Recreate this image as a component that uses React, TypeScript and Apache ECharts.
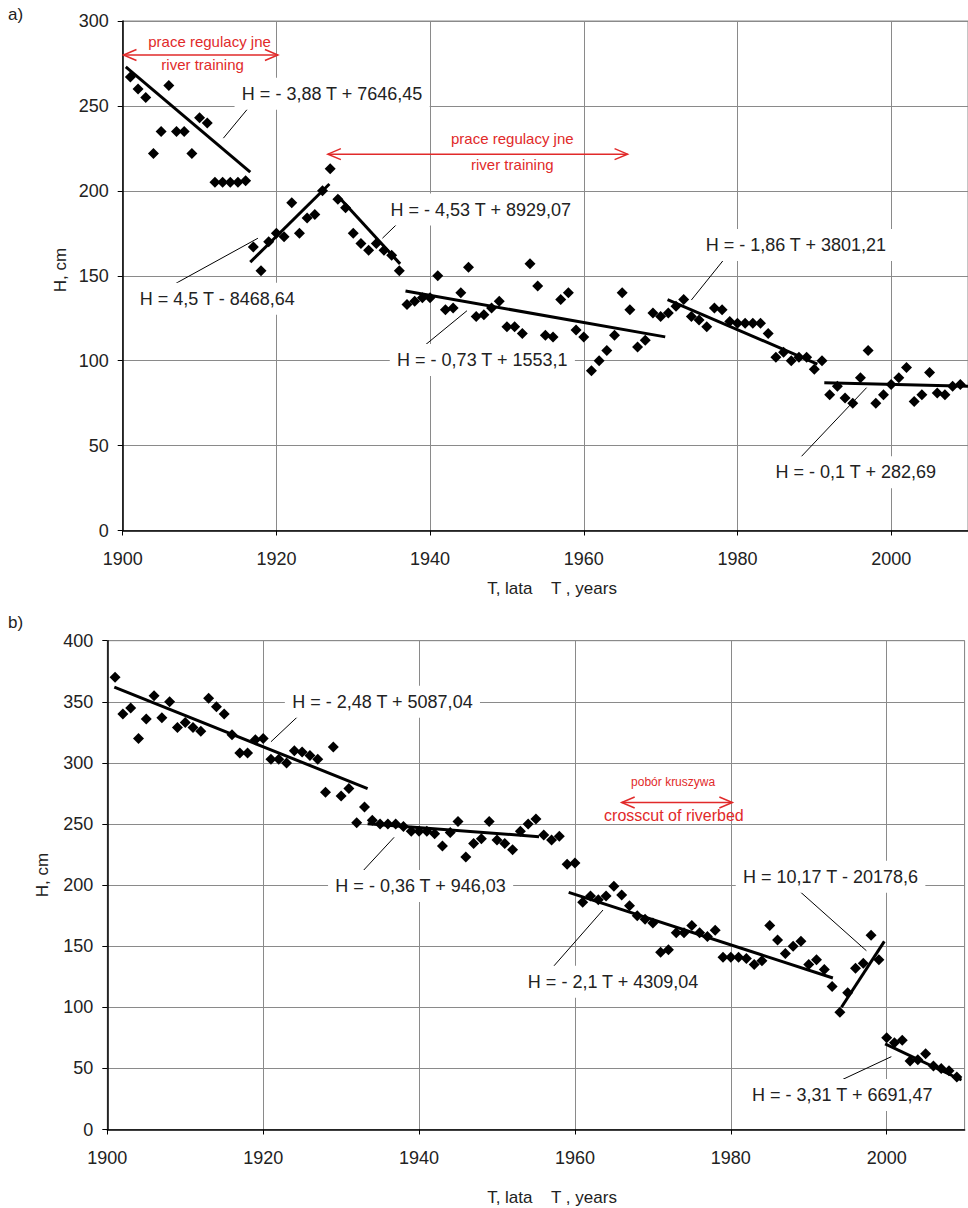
import React, { useEffect, useRef } from "react";
import * as echarts from "echarts";

// ---------- data: chart a ----------
const yearsA = [
  1901, 1902, 1903, 1904, 1905, 1906, 1907, 1908, 1909, 1910,
  1911, 1912, 1913, 1914, 1915, 1916, 1917, 1918, 1919, 1920,
  1921, 1922, 1923, 1924, 1925, 1926, 1927, 1928, 1929, 1930,
  1931, 1932, 1933, 1934, 1935, 1936, 1937, 1938, 1939, 1940,
  1941, 1942, 1943, 1944, 1945, 1946, 1947, 1948, 1949, 1950,
  1951, 1952, 1953, 1954, 1955, 1956, 1957, 1958, 1959, 1960,
  1961, 1962, 1963, 1964, 1965, 1966, 1967, 1968, 1969, 1970,
  1971, 1972, 1973, 1974, 1975, 1976, 1977, 1978, 1979, 1980,
  1981, 1982, 1983, 1984, 1985, 1986, 1987, 1988, 1989, 1990,
  1991, 1992, 1993, 1994, 1995, 1996, 1997, 1998, 1999, 2000,
  2001, 2002, 2003, 2004, 2005, 2006, 2007, 2008, 2009,
];
const levelsA = [
  267, 260, 255, 222, 235, 262, 235, 235, 222, 243,
  240, 205, 205, 205, 205, 206, 167, 153, 170, 175,
  173, 193, 175, 184, 186, 200, 213, 195, 190, 175,
  169, 165, 169, 165, 162, 153, 133, 135, 137, 137,
  150, 130, 131, 140, 155, 126, 127, 131, 135, 120,
  120, 116, 157, 144, 115, 114, 136, 140, 118, 114,
  94, 100, 106, 115, 140, 130, 108, 112, 128, 126,
  128, 132, 136, 126, 124, 120, 131, 130, 123, 122,
  122, 122, 122, 116, 102, 105, 100, 102, 102, 95,
  100, 80, 85, 78, 75, 90, 106, 75, 80, 86,
  90, 96, 76, 80, 93, 81, 80, 85, 86,
];
// trend segments [T1, H1, T2, H2]
const trendA = [
  [1900.4, 273, 1916.6, 211],
  [1916.6, 158, 1926.9, 204],
  [1928.0, 197, 1936.1, 157],
  [1936.8, 141, 1970.6, 114],
  [1970.9, 136, 1990.4, 98],
  [1991.3, 87, 2010.0, 85],
];
const eqTextsA = [
  "H = - 3,88 T + 7646,45",
  "H = - 4,53 T + 8929,07",
  "H = 4,5 T - 8468,64",
  "H = - 0,73 T + 1553,1",
  "H = - 1,86 T + 3801,21",
  "H = - 0,1 T + 282,69",
];
const eqAnchorsA = [
  [1927.25, 257.1],
  [1946.6, 189.0],
  [1912.3, 136.5],
  [1946.8, 100.4],
  [1987.6, 168.1],
  [1995.4, 34.3],
];
const leadersA = [
  [1916.5, 249.6, 1913.1, 231.0],
  [1936.7, 184.8, 1933.8, 172.1],
  [1917.6, 172.1, 1905.1, 141.0],
  [1944.8, 129.4, 1938.9, 107.5],
  [1978.3, 159.9, 1974.0, 135.7],
  [1987.8, 41.1, 1996.8, 84.1],
];
const redTextsA = ["prace regulacy jne", "river training", "prace regulacy jne", "river training"];
const redAnchorsA = [
  [1911.3, 287.9],
  [1910.4, 274.1],
  [1950.7, 230.6],
  [1950.7, 215.7],
];
const arrowsA = [
  [1900.1, 280.0, 1920.2, 280.0],
  [1926.7, 221.6, 1965.7, 221.6],
];

// ---------- data: chart b ----------
const yearsB = yearsA.slice();
const levelsB = [
  370, 340, 345, 320, 336, 355, 337, 350, 329, 333,
  329, 326, 353, 346, 340, 323, 308, 308, 319, 320,
  303, 303, 300, 310, 309, 306, 303, 276, 313, 273,
  279, 251, 264, 253, 250, 250, 250, 248, 244, 244,
  244, 242, 232, 243, 252, 223, 234, 238, 252, 237,
  234, 229, 244, 250, 254, 241, 237, 240, 217, 218,
  186, 191, 188, 191, 199, 192, 183, 175, 172, 169,
  145, 147, 161, 161, 167, 161, 158, 163, 141, 141,
  141, 140, 135, 138, 167, 155, 144, 150, 154, 135,
  139, 131, 117, 96, 112, 132, 136, 159, 139, 75,
  71, 73, 56, 57, 62, 52, 50, 48, 43,
];
const trendB = [
  [1900.9, 362, 1933.4, 279],
  [1933.4, 250.3, 1955.4, 239.6],
  [1959.2, 194, 1993.1, 124],
  [1994.2, 100, 1999.7, 154],
  [1999.8, 70, 2009.6, 40.5],
];
const eqTextsB = [
  "H = - 2,48 T + 5087,04",
  "H = - 0,36 T + 946,03",
  "H = - 2,1 T + 4309,04",
  "H = 10,17 T - 20178,6",
  "H = - 3,31 T + 6691,47",
];
const eqAnchorsB = [
  [1935.3, 350.1],
  [1940.2, 199.3],
  [1964.9, 121.0],
  [1992.8, 206.9],
  [1994.3, 28.2],
];
const leadersB = [
  [1925.2, 342.5, 1921.0, 317.3],
  [1936.8, 239.1, 1931.8, 204.7],
  [1963.6, 179.6, 1956.5, 128.0],
  [1988.4, 197.4, 1997.4, 146.3],
  [1994.0, 39.9, 2000.6, 59.6],
];
const redTextsB = ["pobór kruszywa", "crosscut of riverbed"];
const redAnchorsB = [
  [1972.6, 284.4],
  [1972.7, 256.8],
];
const arrowsB = [[1966.0, 267.6, 1980.2, 267.6]];

const xTicks = [1900, 1920, 1940, 1960, 1980, 2000];

const FONT = '"Liberation Sans", Arial, sans-serif';
const RED = "#e12a2a";
const GRID_COLOR = "#8a8a8a";

function xAxisCfg(gridIndex: number) {
  return {
    type: "value",
    gridIndex,
    min: 1900,
    max: 2010,
    interval: 20,
    axisLine: { show: true, onZero: false, lineStyle: { color: "#000", width: 1.5 } },
    axisTick: { show: true, length: 5, lineStyle: { color: "#000" } },
    axisLabel: {
      margin: 19,
      fontSize: 18,
      fontFamily: FONT,
      color: "#222",
      showMaxLabel: false,
      formatter: (v: number) => (xTicks.indexOf(v) >= 0 ? String(v) : ""),
    },
    splitLine: { show: true, lineStyle: { color: GRID_COLOR, width: 1 } },
  };
}
function yAxisCfg(gridIndex: number, max: number) {
  return {
    type: "value",
    gridIndex,
    min: 0,
    max,
    interval: 50,
    axisLine: { show: true, lineStyle: { color: "#000", width: 1.5 } },
    axisTick: { show: true, length: 5, lineStyle: { color: "#000" } },
    axisLabel: { margin: 14, fontSize: 18, fontFamily: FONT, color: "#222" },
    splitLine: { show: true, lineStyle: { color: GRID_COLOR, width: 1 } },
  };
}

function segSeries(segs: number[][], idx: number, width: number, color: string) {
  return segs.map((s) => ({
    type: "line",
    xAxisIndex: idx,
    yAxisIndex: idx,
    data: [
      [s[0], s[1]],
      [s[2], s[3]],
    ],
    symbol: "none",
    lineStyle: { color, width, opacity: 1 },
    silent: true,
    z: 3,
  }));
}

export default function App() {
  const ref = useRef<HTMLDivElement>(null);
  useEffect(() => {
    const chart = echarts.init(ref.current!, null, { renderer: "svg" });
    const scatterStyle = { color: "#000", opacity: 1 };
    const option: any = {
      animation: false,
      backgroundColor: "#fff",
      grid: [
        { left: 122.7, top: 21, width: 846.6, height: 509.5, show: true, borderColor: GRID_COLOR, borderWidth: 1 },
        { left: 107.3, top: 640.7, width: 857.3, height: 488.8, show: true, borderColor: GRID_COLOR, borderWidth: 1 },
      ],
      xAxis: [xAxisCfg(0), xAxisCfg(1)],
      yAxis: [yAxisCfg(0, 300), yAxisCfg(1, 400)],
      series: [
        {
          type: "scatter",
          xAxisIndex: 0,
          yAxisIndex: 0,
          symbol: "diamond",
          symbolSize: 11,
          itemStyle: scatterStyle,
          data: yearsA.map((t, i) => [t, levelsA[i]]),
          z: 4,
        },
        {
          type: "scatter",
          xAxisIndex: 1,
          yAxisIndex: 1,
          symbol: "diamond",
          symbolSize: 11,
          itemStyle: scatterStyle,
          data: yearsB.map((t, i) => [t, levelsB[i]]),
          z: 4,
        },
        ...segSeries(trendA, 0, 3, "#000"),
        ...segSeries(trendB, 1, 3, "#000"),
        ...segSeries(leadersA, 0, 1, "#000"),
        ...segSeries(leadersB, 1, 1, "#000"),
        ...segSeries(arrowsA, 0, 1.5, RED),
        ...segSeries(arrowsB, 1, 1.5, RED),
      ],
    };
    chart.setOption(option);

    const px = (g: number, p: number[]) => chart.convertToPixel({ gridIndex: g } as any, p) as number[];
    const graphics: any[] = [];
    const eqText = (g: number, p: number[], text: string) => {
      const q = px(g, p);
      graphics.push({
        type: "text",
        x: q[0],
        y: q[1],
        z: 100,
        style: {
          text,
          font: `18px ${FONT}`,
          fill: "#222",
          align: "center",
          verticalAlign: "middle",
          backgroundColor: "#fff",
          padding: [7, 7],
        },
      });
    };
    const redText = (g: number, p: number[], text: string, size: number) => {
      const q = px(g, p);
      graphics.push({
        type: "text",
        x: q[0],
        y: q[1],
        z: 100,
        style: { text, font: `${size}px ${FONT}`, fill: RED, align: "center", verticalAlign: "middle" },
      });
    };
    const heads = (g: number, a: number[]) => {
      const p1 = px(g, [a[0], a[1]]);
      const p2 = px(g, [a[2], a[3]]);
      [
        [p1, 1],
        [p2, -1],
      ].forEach(([p, d]: any) => {
        graphics.push({
          type: "polyline",
          z: 100,
          shape: {
            points: [
              [p[0] + d * 13, p[1] - 5.5],
              [p[0], p[1]],
              [p[0] + d * 13, p[1] + 5.5],
            ],
          },
          style: { stroke: RED, lineWidth: 1.5, fill: null },
        });
      });
    };

    eqTextsA.forEach((t, i) => eqText(0, eqAnchorsA[i], t));
    eqTextsB.forEach((t, i) => eqText(1, eqAnchorsB[i], t));
    redTextsA.forEach((t, i) => redText(0, redAnchorsA[i], t, 15));
    redText(1, redAnchorsB[0], redTextsB[0], 12);
    redText(1, redAnchorsB[1], redTextsB[1], 16);
    arrowsA.forEach((a) => heads(0, a));
    arrowsB.forEach((a) => heads(1, a));

    const plain = (x: number, y: number, text: string, size: number, rot = 0, align = "center") =>
      graphics.push({
        type: "text",
        x,
        y,
        rotation: rot,
        z: 100,
        style: { text, font: `${size}px ${FONT}`, fill: "#222", align, verticalAlign: "middle" },
      });
    plain(8, 14, "a)", 17, 0, "left");
    plain(8, 622, "b)", 17, 0, "left");
    plain(60, 270, "H, cm", 17, Math.PI / 2);
    plain(42, 875, "H, cm", 17, Math.PI / 2);
    plain(552, 588, "T, lata    T , years", 17);
    plain(552, 1197, "T, lata    T , years", 17);

    chart.setOption({ graphic: graphics });
    return () => chart.dispose();
  }, []);
  return (
    <div
      ref={ref}
      style={{ position: "absolute", left: 0, top: 0, width: 968, height: 1208 }}
    />
  );
}
